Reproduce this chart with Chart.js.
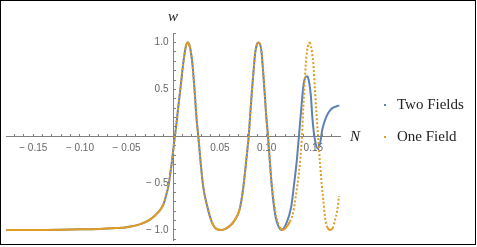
<!DOCTYPE html>
<html>
<head>
<meta charset="utf-8">
<script src="https://cdn.jsdelivr.net/npm/chart.js@4"></script>
<style>
  html, body { margin: 0; padding: 0; background: #fff; }
  #wrap { position: relative; width: 477px; height: 247px; overflow: hidden; }
  #frame { position: absolute; left: 0; top: 0; width: 476px; height: 245px; border: 1px solid #000; box-sizing: border-box; pointer-events: none; }
  .ax { position: absolute; font-family: "Liberation Serif", serif; font-style: italic; font-size: 15px; line-height: 16px; color: #222; white-space: nowrap; }
  .legtxt { position: absolute; left: 397px; font-family: "Liberation Serif", serif; font-size: 15px; line-height: 16px; color: #222; white-space: nowrap; }
  .dot { position: absolute; left: 384px; width: 2px; height: 2px; }
</style>
</head>
<body>
<div id="wrap">
  <canvas id="c" width="477" height="247"></canvas>
  <div id="frame"></div>
  <span class="ax" style="left:168px; top:8px;">w</span>
  <span class="ax" style="left:350px; top:128px;">N</span>
  <div class="dot" style="top:104px; background:#5E81B5;"></div>
  <span class="legtxt" style="top:96px;">Two Fields</span>
  <div class="dot" style="top:136px; background:#E19C24;"></div>
  <span class="legtxt" style="top:128px;">One Field</span>
</div>
<script>
// ---------- Data ----------
// part where both runs lie on top of each other
const COMMON_N = [-0.179,-0.150,-0.120,-0.100,-0.079,-0.061,-0.050,-0.036,-0.025,-0.016,-0.0107,-0.0071,-0.0054,-0.0035,-0.0017,
  0.0008,0.0030,0.0054,0.0079,0.0107,0.0133,0.0154,0.0179,0.0204,0.0225,0.0251,0.0268,0.0294,0.0321,0.0364,0.0411,0.0465,
  0.0519,0.0572,0.0608,0.0658,0.0711,0.0747,0.0771,0.0793,0.0808,0.0825,0.0843,0.0861,0.0879,0.0900,0.0913,0.0926,0.0943,
  0.0961,0.0979,0.0996,0.1015,0.1033,0.1050];
const COMMON_W = [-1.0,-1.0,-0.997,-0.993,-0.99,-0.98,-0.97,-0.94,-0.89,-0.81,-0.73,-0.61,-0.54,-0.42,-0.29,
  -0.075,0.10,0.32,0.53,0.78,0.95,1.0,0.95,0.78,0.53,0.17,0.0,-0.29,-0.54,-0.75,-0.91,-0.99,
  -1.0,-0.98,-0.955,-0.895,-0.78,-0.57,-0.36,-0.15,0.0,0.245,0.49,0.71,0.90,0.99,1.0,0.99,0.92,
  0.71,0.46,0.21,0.0,-0.25,-0.47];

// One Field after the split
const ONE_N = [0.1076,0.1104,0.1140,0.1175,0.1211,0.1250,0.1283,0.1315,0.1347,0.1376,0.1393,0.1411,0.1429,0.1454,0.1462,
  0.1475,0.1500,0.1518,0.1536,0.1554,0.1572,0.1590,0.1607,0.1625,0.1650,0.1679,0.1708,0.1733,0.1757,0.1775];
const ONE_W = [-0.68,-0.86,-0.97,-1.0,-0.97,-0.91,-0.82,-0.62,-0.38,-0.04,0.30,0.64,0.88,0.99,1.0,
  0.96,0.78,0.49,0.21,-0.04,-0.29,-0.51,-0.68,-0.86,-0.97,-1.0,-0.98,-0.89,-0.79,-0.64];

// Two Fields after the split
const TWO_N = [0.1070,0.1098,0.1130,0.1157,0.1211,0.1264,0.1293,0.1322,0.1339,0.1358,0.1376,0.1393,0.1411,0.1436,0.1457,
  0.1475,0.1489,0.1507,0.1526,0.1547,0.1572,0.1596,0.1625,0.1661,0.1704,0.1751,0.1779];
const TWO_W = [-0.68,-0.87,-0.97,-1.0,-0.93,-0.75,-0.52,-0.27,-0.08,0.14,0.35,0.53,0.62,0.64,0.57,
  0.42,0.21,0.03,-0.08,-0.13,-0.08,0.07,0.17,0.25,0.30,0.32,0.33];

const X_MIN = -0.1792, X_MAX = 0.1786;
const Y_MIN = -1.107, Y_MAX = 1.102;

const BLUE = '#5E81B5';
const ORANGE = '#E19C24';
const AXIS = '#808080';
const LABEL = '#666666';

const toPts = (xs, ys) => xs.map((x, i) => ({ x, y: ys[i] }));
const signed = (v, d) => v < 0 ? '\u2212 ' + (-v).toFixed(d) : v.toFixed(d);

// sampled points spread out where the curve is steep -> dotted look
function steep(ctx) {
  const dx = Math.abs(ctx.p1.x - ctx.p0.x), dy = Math.abs(ctx.p1.y - ctx.p0.y);
  return dy > 2.5 * dx ? [2, 2] : undefined;
}

// axes cross at the origin and must not eat into the plot area
function noSpace(s) {
  s.paddingLeft = s.paddingRight = s.paddingTop = s.paddingBottom = 0;
  if (s.isHorizontal()) s.height = 0; else s.width = 0;
}

const ctx = document.getElementById('c').getContext('2d');
new Chart(ctx, {
  type: 'scatter',
  data: {
    datasets: [
      { label: 'One Field', data: toPts(COMMON_N.concat(ONE_N), COMMON_W.concat(ONE_W)),
        borderColor: ORANGE, borderWidth: 2, showLine: true, pointRadius: 0,
        cubicInterpolationMode: 'monotone', order: 0, segment: { borderDash: steep } },
      { label: 'Two Fields', data: toPts(COMMON_N.concat(TWO_N), COMMON_W.concat(TWO_W)),
        borderColor: BLUE, borderWidth: 2, showLine: true, pointRadius: 0,
        cubicInterpolationMode: 'monotone', order: 1 }
    ]
  },
  options: {
    responsive: false, animation: false, devicePixelRatio: 1,
    layout: { padding: { left: 6, right: 137, top: 33, bottom: 7 } },
    plugins: { legend: { display: false }, tooltip: { enabled: false } },
    scales: {
      x: {
        type: 'linear', min: X_MIN, max: X_MAX, position: { y: 0 },
        afterFit: noSpace,
        border: { color: AXIS, width: 1 },
        grid: { drawOnChartArea: false, tickLength: -3, tickColor: AXIS },
        ticks: {
          stepSize: 0.01, includeBounds: false, autoSkip: false, maxTicksLimit: 100, maxRotation: 0,
          padding: 9, color: LABEL, font: { family: 'Liberation Sans', size: 10 },
          callback: v => { const k = Math.round(v * 100); return (k === 0 || k % 5) ? '' : signed(v, 2); }
        }
      },
      y: {
        type: 'linear', min: Y_MIN, max: Y_MAX, position: { x: 0 },
        afterFit: noSpace,
        border: { color: AXIS, width: 1 },
        grid: { drawOnChartArea: false, tickLength: -3, tickColor: AXIS },
        ticks: {
          stepSize: 0.1, includeBounds: false, autoSkip: false, maxTicksLimit: 100,
          color: LABEL, font: { family: 'Liberation Sans', size: 10 },
          // labels are right-aligned on the axis; trailing space leaves the small gap
          callback: v => { const k = Math.round(v * 10); return (k === 0 || k % 5) ? '' : signed(v, 1) + ' \u2009'; }
        }
      }
    }
  }
});
</script>
</body>
</html>
